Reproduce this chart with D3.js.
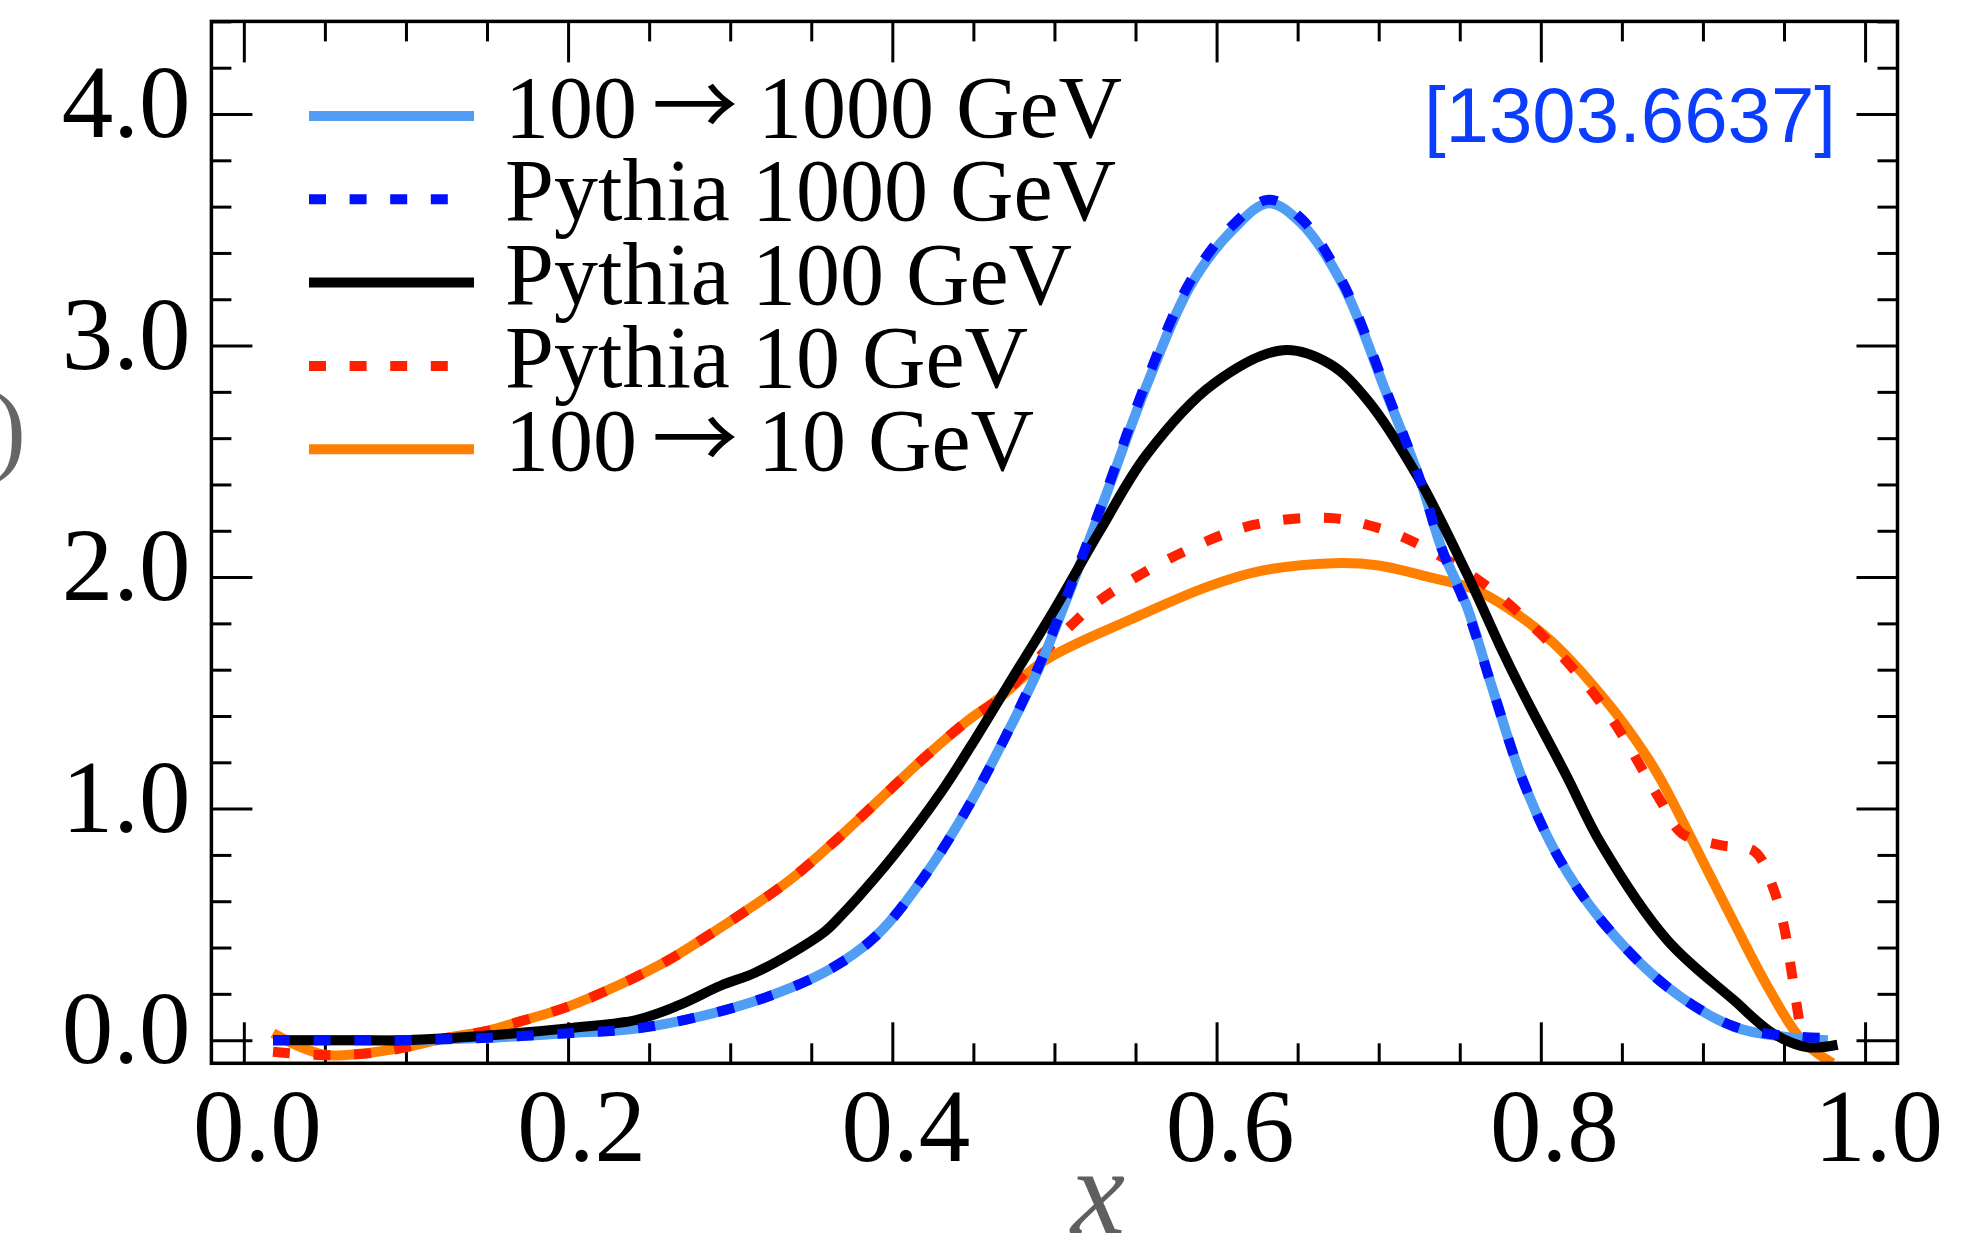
<!DOCTYPE html>
<html>
<head>
<meta charset="utf-8">
<script src="https://cdn.jsdelivr.net/npm/d3@7"></script>
<style>
  html, body { margin: 0; padding: 0; background: #fff; }
  svg { display: block; }
</style>
</head>
<body>
<svg id="chart" width="1973" height="1243"></svg>
<script>
// series
const xLight = [0.018, 0.06, 0.10, 0.15, 0.20, 0.242, 0.28, 0.32, 0.36, 0.39, 0.42, 0.447, 0.469, 0.49, 0.51, 0.53, 0.557, 0.584, 0.61, 0.632, 0.652, 0.678, 0.705, 0.726, 0.739, 0.754, 0.771, 0.789, 0.81, 0.837, 0.878, 0.919, 0.95, 0.977];
const yLight = [0.00, 0.00, 0.00, 0.01, 0.03, 0.05, 0.10, 0.18, 0.30, 0.45, 0.71, 1.01, 1.30, 1.60, 1.95, 2.32, 2.83, 3.26, 3.50, 3.615, 3.53, 3.26, 2.79, 2.41, 2.12, 1.88, 1.50, 1.12, 0.80, 0.52, 0.23, 0.058, 0.015, 0.00];

const xPy1000 = [0.018, 0.06, 0.10, 0.15, 0.20, 0.242, 0.28, 0.32, 0.36, 0.39, 0.42, 0.447, 0.469, 0.49, 0.51, 0.53, 0.557, 0.584, 0.61, 0.632, 0.652, 0.678, 0.705, 0.726, 0.739, 0.754, 0.771, 0.789, 0.81, 0.837, 0.878, 0.919, 0.95, 0.976];
const yPy1000 = [0.00, 0.00, 0.00, 0.01, 0.03, 0.05, 0.10, 0.18, 0.30, 0.45, 0.71, 1.01, 1.30, 1.61, 1.96, 2.33, 2.85, 3.28, 3.52, 3.63, 3.55, 3.27, 2.80, 2.41, 2.12, 1.87, 1.50, 1.12, 0.80, 0.52, 0.23, 0.06, 0.02, 0.01];

const xPy100 = [0.018, 0.06, 0.10, 0.15, 0.201, 0.242, 0.268, 0.294, 0.315, 0.3365, 0.3585, 0.368, 0.378, 0.40, 0.43, 0.452, 0.472, 0.50, 0.528, 0.557, 0.598, 0.641, 0.67, 0.693, 0.724, 0.754, 0.775, 0.789, 0.816, 0.837, 0.878, 0.919, 0.943, 0.964, 0.983];
const yPy100 = [0.00, 0.00, 0.00, 0.02, 0.052, 0.087, 0.15, 0.235, 0.29, 0.37, 0.47, 0.535, 0.61, 0.79, 1.07, 1.31, 1.54, 1.86, 2.20, 2.53, 2.834, 2.98, 2.92, 2.765, 2.434, 2.02, 1.70, 1.50, 1.14, 0.85, 0.432, 0.173, 0.03, -0.03, -0.02];

const xPy10 = [0.018, 0.05, 0.08, 0.10, 0.125, 0.15, 0.17, 0.20, 0.232, 0.263, 0.2815, 0.309, 0.3365, 0.364, 0.3915, 0.419, 0.4465, 0.465, 0.49, 0.51, 0.528, 0.5755, 0.6226, 0.67, 0.697, 0.719, 0.763, 0.80, 0.834, 0.85, 0.8736, 0.887, 0.91, 0.932, 0.943, 0.95, 0.954, 0.958, 0.962];
const yPy10 = [-0.05, -0.065, -0.055, -0.03, 0.01, 0.04, 0.08, 0.145, 0.24, 0.35, 0.43, 0.555, 0.69, 0.856, 1.035, 1.215, 1.38, 1.47, 1.65, 1.79, 1.90, 2.095, 2.225, 2.255, 2.218, 2.16, 1.98, 1.754, 1.485, 1.32, 1.037, 0.893, 0.843, 0.814, 0.663, 0.49, 0.325, 0.144, -0.03];

const xOrange = [0.018, 0.035, 0.051, 0.07, 0.10, 0.125, 0.15, 0.17, 0.20, 0.232, 0.263, 0.2815, 0.309, 0.3365, 0.364, 0.3915, 0.419, 0.4465, 0.4646, 0.494, 0.548, 0.595, 0.626, 0.672, 0.70, 0.731, 0.758, 0.781, 0.807, 0.842, 0.863, 0.8736, 0.898, 0.919, 0.94, 0.961, 0.98];
const yOrange = [0.03, -0.03, -0.064, -0.06, -0.03, 0.01, 0.04, 0.08, 0.145, 0.24, 0.35, 0.43, 0.555, 0.69, 0.856, 1.035, 1.215, 1.38, 1.47, 1.64, 1.82, 1.96, 2.025, 2.06, 2.05, 2.00, 1.95, 1.86, 1.72, 1.45, 1.25, 1.13, 0.80, 0.51, 0.23, 0.0, -0.1];

const xMajor = [0.0, 0.2, 0.4, 0.6, 0.8, 1.0];
const yMajor = [0.0, 1.0, 2.0, 3.0, 4.0];

// legend label parts: [before arrow, after arrow] or plain text
const legendLabels = [["100", "1000 GeV"], "Pythia 1000 GeV", "Pythia 100 GeV", "Pythia 10 GeV", ["100", "10 GeV"]];

const series = [
  { name: legendLabels[4], xs: xOrange, ys: yOrange, color: "#ff8000", dash: null, w: 10 },
  { name: legendLabels[3], xs: xPy10, ys: yPy10, color: "#ff2000", dash: "17 23.6", w: 10 },
  { name: legendLabels[0], xs: xLight, ys: yLight, color: "#4f9df4", dash: null, w: 10 },
  { name: legendLabels[2], xs: xPy100, ys: yPy100, color: "#000000", dash: null, w: 10 },
  { name: legendLabels[1], xs: xPy1000, ys: yPy1000, color: "#0010ff", dash: "17 23.6", w: 10 }
];

const svg = d3.select("#chart");
const plotL = 211.4, plotR = 1897.5, plotT = 21.4, plotB = 1063.3;

const x = d3.scaleLinear().domain([-0.02, 1.02]).range([plotL, plotR]);
const y = d3.scaleLinear().domain([-0.1, 4.4]).range([plotB, plotT]);

const serif = "'Liberation Serif', 'Times New Roman', serif";

// clip
svg.append("defs").append("clipPath").attr("id", "plot")
  .append("rect")
  .attr("x", plotL).attr("y", plotT)
  .attr("width", plotR - plotL).attr("height", plotB - plotT);

const xMinor = d3.range(0, 21).map(i => i * 0.05).filter(v => Math.abs(v * 5 - Math.round(v * 5)) > 1e-6);
const yMinor = d3.range(0, 23).map(i => i * 0.2).filter(v => Math.abs(v - Math.round(v)) > 1e-6);

function styleAxis(g) {
  g.select(".domain").remove();
  g.selectAll(".tick line").attr("stroke", "#000").attr("stroke-width", 3);
}

// bottom
svg.append("g").attr("transform", `translate(0,${plotB})`)
  .call(d3.axisBottom(x).tickValues(xMajor).tickSizeInner(-41).tickSizeOuter(0).tickFormat(d3.format(".1f")))
  .call(styleAxis)
  .call(g => g.selectAll("text")
    .attr("y", 98).attr("dy", null).attr("dx", 13)
    .attr("fill", "#000")
    .style("font-family", serif).style("font-size", "103px"));
svg.append("g").attr("transform", `translate(0,${plotB})`)
  .call(d3.axisBottom(x).tickValues(xMinor).tickSizeInner(-20).tickSizeOuter(0).tickFormat(""))
  .call(styleAxis);

// top
svg.append("g").attr("transform", `translate(0,${plotT})`)
  .call(d3.axisTop(x).tickValues(xMajor).tickSizeInner(-41).tickSizeOuter(0).tickFormat(""))
  .call(styleAxis);
svg.append("g").attr("transform", `translate(0,${plotT})`)
  .call(d3.axisTop(x).tickValues(xMinor).tickSizeInner(-20).tickSizeOuter(0).tickFormat(""))
  .call(styleAxis);

// left
svg.append("g").attr("transform", `translate(${plotL},0)`)
  .call(d3.axisLeft(y).tickValues(yMajor).tickSizeInner(-41).tickSizeOuter(0).tickFormat(d3.format(".1f")))
  .call(styleAxis)
  .call(g => g.selectAll("text")
    .attr("x", -21).attr("dy", "0.22em")
    .attr("fill", "#000")
    .style("font-family", serif).style("font-size", "103px"));
svg.append("g").attr("transform", `translate(${plotL},0)`)
  .call(d3.axisLeft(y).tickValues(yMinor).tickSizeInner(-20).tickSizeOuter(0).tickFormat(""))
  .call(styleAxis);

// right
svg.append("g").attr("transform", `translate(${plotR},0)`)
  .call(d3.axisRight(y).tickValues(yMajor).tickSizeInner(-41).tickSizeOuter(0).tickFormat(""))
  .call(styleAxis);
svg.append("g").attr("transform", `translate(${plotR},0)`)
  .call(d3.axisRight(y).tickValues(yMinor).tickSizeInner(-20).tickSizeOuter(0).tickFormat(""))
  .call(styleAxis);

// curves
const line = d3.line()
  .x(d => x(d[0]))
  .y(d => y(d[1]))
  .curve(d3.curveCatmullRom.alpha(0.5));

const curves = svg.append("g").attr("clip-path", "url(#plot)");
series.forEach(s => {
  curves.append("path")
    .datum(d3.zip(s.xs, s.ys))
    .attr("d", line)
    .attr("fill", "none")
    .attr("stroke", s.color)
    .attr("stroke-width", s.w)
    .attr("stroke-dasharray", s.dash)
    .attr("stroke-linejoin", "round");
});

// frame
svg.append("rect")
  .attr("x", plotL).attr("y", plotT)
  .attr("width", plotR - plotL).attr("height", plotB - plotT)
  .attr("fill", "none").attr("stroke", "#000").attr("stroke-width", 3.5);

// legend
const legendOrder = [2, 4, 3, 1, 0];
const legend = svg.append("g");
legendOrder.forEach((si, i) => {
  const s = series[si];
  const ly = 116 + i * 83.3;
  legend.append("line")
    .attr("x1", 309).attr("x2", s.dash ? 474 - 24 : 474)
    .attr("y1", ly).attr("y2", ly)
    .attr("stroke", s.color).attr("stroke-width", s.w)
    .attr("stroke-dasharray", s.dash);
  const t = legend.append("text")
    .attr("x", 505).attr("y", ly + 21)
    .style("font-family", serif).style("font-size", "88px")
    .attr("fill", "#000");
  if (Array.isArray(s.name)) {
    t.append("tspan").text(s.name[0]);
    t.append("tspan").attr("dx", 15)
      .style("font-family", "'Noto Sans CJK JP', 'DejaVu Sans', sans-serif").style("font-size", "86px")
      .text("\u2192");
    t.append("tspan").attr("dx", 20).text(s.name[1]);
  } else {
    t.text(s.name);
  }
});

// reference tag
svg.append("text")
  .attr("x", 1836).attr("y", 142)
  .attr("text-anchor", "end")
  .style("font-family", "'Liberation Sans', Arial, sans-serif").style("font-size", "78px")
  .attr("fill", "#0b3dff")
  .text("[1303.6637]");

// axis titles
svg.append("text")
  .attr("x", 1098).attr("y", 1233)
  .attr("text-anchor", "middle")
  .style("font-family", serif).style("font-style", "italic").style("font-size", "122px")
  .attr("fill", "#5f5f5f")
  .text("x");

svg.append("text")
  .attr("x", 26).attr("y", 462)
  .attr("text-anchor", "end")
  .style("font-family", serif).style("font-size", "101px")
  .attr("fill", "#666")
  .text("D(x)");
</script>
</body>
</html>
